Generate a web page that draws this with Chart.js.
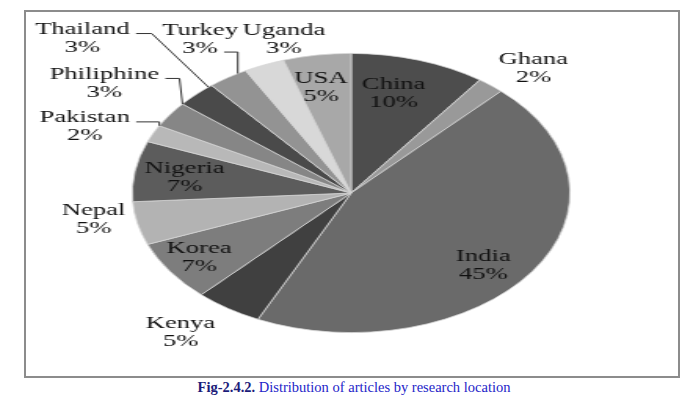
<!DOCTYPE html>
<html>
<head>
<meta charset="utf-8">
<script src="https://cdn.jsdelivr.net/npm/chart.js@4/dist/chart.umd.min.js"></script>
<style>
    body { margin: 0; background: #fff; width: 700px; height: 398px; position: relative; overflow: hidden; }
    #frame { position: absolute; left: 24px; top: 10px; width: 652px; height: 364px; border: 2px solid #8c8c8c; }
    #stretch { position: absolute; left: 25px; top: 11px; width: 417px; height: 366px; transform: scaleX(1.568); transform-origin: 0 0; }
    #caption { position: absolute; left: 0; width: 708px; top: 379px; text-align: center; font-family: 'Liberation Serif', serif; font-size: 14.5px; color: #2424c8; }
    #caption b { color: #1c1c7a; font-weight: bold; }
</style>
</head>
<body>
<div id="frame"></div>
<div id="stretch"><canvas id="pie" width="417" height="366"></canvas></div>
<div id="caption"><b>Fig-2.4.2.</b> Distribution of articles by research location</div>
<script>
const countries = ['China', 'Ghana', 'India', 'Kenya', 'Korea', 'Nepal', 'Nigeria', 'Pakistan', 'Philiphine', 'Thailand', 'Turkey', 'Uganda', 'USA'];
const shares = [10, 2, 45, 5, 7, 5, 7, 2, 3, 3, 3, 3, 5];
const greys = ['#4d4d4d', '#999999', '#6a6a6a', '#404040', '#7d7d7d', '#b3b3b3', '#5c5c5c', '#b8b8b8', '#868686', '#4a4a4a', '#939393', '#d8d8d8', '#a8a8a8'];

// label placement: [radius factor, angle shift in degrees from slice middle]
const labelSpots = [[0.75, -3], [1.23, 3], [0.79, 6], [1.26, 4], [0.83, 1], [1.19, 4], [0.77, 0], [1.31, -3.5], [1.38, 1], [1.66, -2.7], [1.31, 2.4], [1.155, 8], [0.78, -1.2]];
// leader lines: [text row, horizontal run, where on the slice edge it ends (0..1)] or null
const leaders = [null, null, null, null, null, null, null, [0, 99, 1.0], [0, 9, 1.0], [0, 10, 0.9], [1, 99, 0.78], null, null];

const pieLabels = {
    id: 'pieLabels',
    afterDatasetsDraw(chart) {
        const ctx = chart.ctx;
        const arcs = chart.getDatasetMeta(0).data;
        ctx.save();
        ctx.font = '17px "Liberation Serif", serif';
        ctx.fillStyle = '#111';
        ctx.textAlign = 'center';
        ctx.textBaseline = 'middle';
        arcs.forEach((arc, i) => {
            const mid = (arc.startAngle + arc.endAngle) / 2;
            const a = mid + labelSpots[i][1] * Math.PI / 180;
            const r = arc.outerRadius * labelSpots[i][0];
            const x = arc.x + Math.cos(a) * r;
            const y = arc.y + Math.sin(a) * r + 1.5;
            const rows = [countries[i], shares[i] + '%'];
            ctx.fillText(rows[0], x, y - 9);
            ctx.fillText(rows[1], x, y + 9);

            if (leaders[i]) {
                const [row, run, f] = leaders[i];
                const w = ctx.measureText(rows[row]).width;
                const ly = y - 9 + row * 18 + 4;
                const sx = x + w / 2 + 4;
                const ea = arc.startAngle + (arc.endAngle - arc.startAngle) * f;
                const ex = arc.x + Math.cos(ea) * arc.outerRadius;
                const ey = arc.y + Math.sin(ea) * arc.outerRadius;
                const kx = Math.min(sx + run, ex);
                ctx.beginPath();
                ctx.strokeStyle = '#333';
                ctx.lineWidth = 1;
                ctx.moveTo(sx, ly);
                ctx.lineTo(kx, ly);
                ctx.lineTo(ex, ey);
                ctx.stroke();
            }
        });
        ctx.restore();
    }
};

const ctx = document.getElementById('pie').getContext('2d');
const chart = new Chart(ctx, {
    type: 'pie',
    data: {
        labels: countries,
        datasets: [{
            data: shares,
            backgroundColor: greys,
            borderColor: '#d4d4d4',
            borderWidth: 0.8
        }]
    },
    options: {
        responsive: false,
        animation: false,
        layout: {
            padding: { left: 68, right: 69, top: 42, bottom: 44 }
        },
        plugins: {
            legend: { display: false },
            tooltip: { enabled: false }
        }
    },
    plugins: [pieLabels]
});
</script>
</body>
</html>
